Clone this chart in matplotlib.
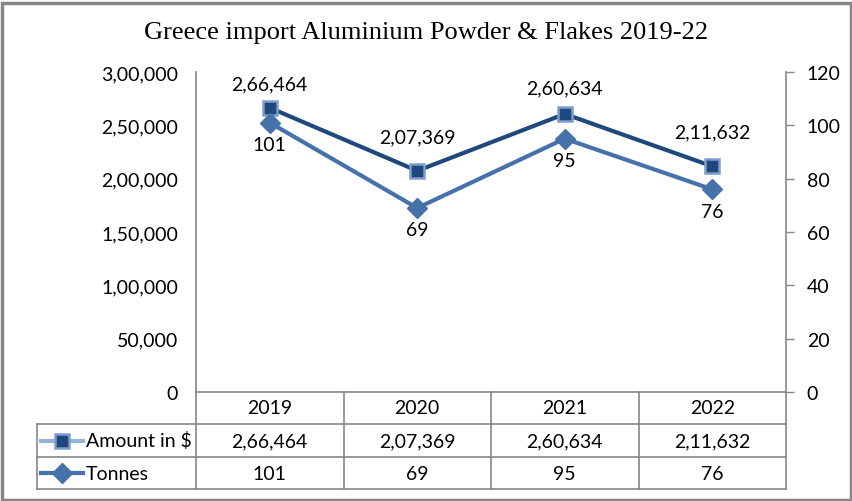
import matplotlib
matplotlib.use("Agg")
from matplotlib import pyplot as plt
from matplotlib import transforms
from matplotlib.patches import Rectangle

years = ["2019", "2020", "2021", "2022"]
amount = [266464, 207369, 260634, 211632]
tonnes = [101, 69, 95, 76]
amount_txt = ["2,66,464", "2,07,369", "2,60,634", "2,11,632"]
left_ticks = [0, 50000, 100000, 150000, 200000, 250000, 300000]
left_tick_txt = ["0", "50,000", "1,00,000", "1,50,000", "2,00,000", "2,50,000", "3,00,000"]
right_ticks = [0, 20, 40, 60, 80, 100, 120]

# label offsets (pixels) above the amount markers, as placed in the original
amount_lab_dy = [24, 34, 26, 34]

NAVY = "#1F497D"
EDGE = "#7F9DCB"
STEEL = "#4672AB"
GRAY = "#868686"
FONT = "Lato"
FS = 14

W, H = 852, 502
fig = plt.figure(figsize=(W / 100, H / 100), dpi=100)


def fx(px):
    return px / W


def fy(py):
    return 1 - py / H


ax_l, ax_r, ax_t, ax_b = 196, 786, 73, 393
ax = fig.add_axes([fx(ax_l), fy(ax_b), fx(ax_r - ax_l), (ax_b - ax_t) / H])
ax2 = ax.twinx()

x = list(range(len(years)))
ax.plot(x, amount, color=NAVY, lw=3.0, marker="s", ms=10.5, mfc=NAVY,
        mec=EDGE, mew=1.8, zorder=3)
ax2.plot(x, tonnes, color=STEEL, lw=3.0, marker="D", ms=10, mfc=STEEL,
         mec=STEEL, zorder=3)

for i in x:
    ax.annotate(amount_txt[i], (i, amount[i]), xytext=(0, amount_lab_dy[i] * 0.72),
                textcoords="offset points", ha="center", va="center",
                fontsize=FS, family=FONT, color="black")
    ax2.annotate(str(tonnes[i]), (i, tonnes[i]), xytext=(0, -22 * 0.72),
                 textcoords="offset points", ha="center", va="center",
                 fontsize=FS, family=FONT, color="black")

ax.set_xlim(-0.5, len(years) - 0.5)
ax.set_ylim(0, 300000)
ax2.set_ylim(0, 120)
ax.set_yticks(left_ticks)
ax.set_yticklabels(left_tick_txt, family=FONT, fontsize=FS)
ax2.set_yticks(right_ticks)
ax2.set_yticklabels([str(t) for t in right_ticks], family=FONT, fontsize=FS)
ax.set_xticks([])
ax.tick_params(axis="y", length=0, pad=13)
ax2.tick_params(axis="y", length=6, width=1, color=GRAY, pad=9)

for a in (ax, ax2):
    for side, sp in a.spines.items():
        sp.set_color(GRAY)
        sp.set_linewidth(1.2)
    a.spines["top"].set_visible(False)
ax2.spines["left"].set_visible(False)
ax2.spines["bottom"].set_visible(False)
ax.spines["right"].set_visible(False)

# data table under the plot
tr = transforms.blended_transform_factory(ax.transData, fig.transFigure)
rows_y = [393, 425, 458, 490]
tbl_left = 37
line_kw = dict(color=GRAY, lw=1.2, clip_on=False)

for py in rows_y[1:]:
    fig.add_artist(plt.Line2D([fx(tbl_left), fx(ax_r)], [fy(py), fy(py)],
                              transform=fig.transFigure, **line_kw))
fig.add_artist(plt.Line2D([fx(tbl_left), fx(tbl_left)], [fy(rows_y[1]), fy(rows_y[3])],
                          transform=fig.transFigure, **line_kw))
for bx in [-0.5 + k for k in range(len(years) + 1)]:
    fig.add_artist(plt.Line2D([bx, bx], [fy(rows_y[0]), fy(rows_y[3])],
                              transform=tr, **line_kw))

mid = [(rows_y[k] + rows_y[k + 1]) / 2 for k in range(3)]
for i in x:
    fig.text(i, fy(mid[0]), years[i], transform=tr, ha="center", va="center",
             fontsize=FS, family=FONT)
    fig.text(i, fy(mid[1]), amount_txt[i], transform=tr, ha="center", va="center",
             fontsize=FS, family=FONT)
    fig.text(i, fy(mid[2]), str(tonnes[i]), transform=tr, ha="center", va="center",
             fontsize=FS, family=FONT)

# legend keys in the table
fig.add_artist(plt.Line2D([fx(41), fx(83)], [fy(mid[1])] * 2, transform=fig.transFigure,
                          color="#95B3D7", lw=3))
fig.add_artist(plt.Line2D([fx(62)], [fy(mid[1])], transform=fig.transFigure,
                          marker="s", ms=10.5, mfc=NAVY, mec=EDGE, mew=1.8, lw=0))
fig.add_artist(plt.Line2D([fx(41), fx(83)], [fy(mid[2])] * 2, transform=fig.transFigure,
                          color=STEEL, lw=3))
fig.add_artist(plt.Line2D([fx(62)], [fy(mid[2])], transform=fig.transFigure,
                          marker="D", ms=10, mfc=STEEL, mec=STEEL, lw=0))
fig.text(fx(86), fy(mid[1]), "Amount in $", ha="left", va="center", fontsize=FS, family=FONT)
fig.text(fx(86), fy(mid[2]), "Tonnes", ha="left", va="center", fontsize=FS, family=FONT)

fig.text(0.5, fy(33), "Greece import Aluminium Powder & Flakes 2019-22", ha="center",
         va="center", fontsize=19, family="Liberation Serif")

# outer chart border
fig.add_artist(Rectangle((fx(1.5), fy(500.5)), fx(849), 497 / H, transform=fig.transFigure,
                         fill=False, ec=GRAY, lw=2.5))

fig.savefig("out.png", dpi=100)
